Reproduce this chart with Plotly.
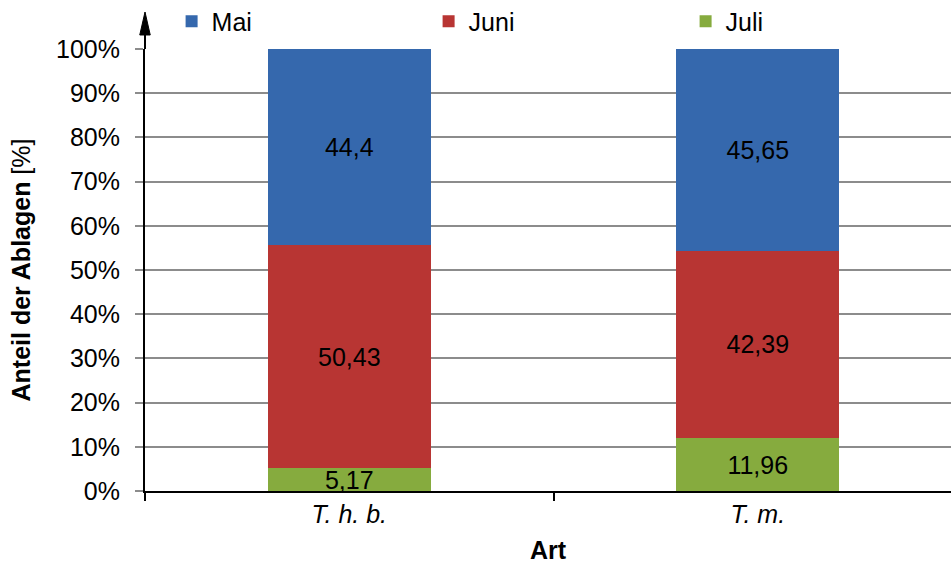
import plotly.graph_objects as go

# Share of egg depositions per month for each species (percent)
species = ["T. h. b.", "T. m."]
months = ["Mai", "Juni", "Juli"]
mai = [44.4, 45.65]
juni = [50.43, 42.39]
juli = [5.17, 11.96]
y_ticks = list(range(0, 101, 10))
y_tick_text = [f"{v}%" for v in y_ticks]

colors = {"Mai": "#3568ad", "Juni": "#b83533", "Juli": "#86ab3e"}
FONT = "Liberation Sans, Arial, Helvetica, sans-serif"
FS = 25


def fmt(v):
    return f"{v:g}".replace(".", ",")


fig = go.Figure()
# stacked bottom to top: Juli, Juni, Mai
for name, vals, rank in [("Juli", juli, 3), ("Juni", juni, 2), ("Mai", mai, 1)]:
    fig.add_trace(go.Bar(
        x=species, y=vals, name=name,
        marker=dict(color=colors[name], line=dict(width=0)),
        text=[fmt(v) for v in vals],
        textposition="inside", insidetextanchor="middle", textangle=0,
        textfont=dict(family=FONT, size=FS, color="black"),
        legendrank=rank,
    ))

fig.update_layout(
    width=951, height=565,
    margin=dict(l=145, r=0, t=49, b=74, autoexpand=False),
    barmode="stack", bargap=0.6,
    plot_bgcolor="white", paper_bgcolor="white",
    font=dict(family=FONT, size=FS, color="black"),
    uniformtext=dict(mode="show", minsize=FS),
    showlegend=True,
    legend=dict(orientation="h", x=0.033, y=1.062, xanchor="left", yanchor="middle",
                traceorder="normal",
                entrywidth=212, entrywidthmode="pixels", itemwidth=30,
                font=dict(family=FONT, size=FS), bgcolor="rgba(0,0,0,0)"),
    xaxis=dict(
        type="category", range=[-0.5, 1.473],
        showline=True, linecolor="black", linewidth=2,
        ticks="outside", tickson="boundaries", ticklen=8, tickwidth=2, tickcolor="black",
        showgrid=False,
        tickfont=dict(family=FONT, size=FS, style="italic"),
        title=dict(text="<b>Art</b>", standoff=14, font=dict(family=FONT, size=FS)),
    ),
    yaxis=dict(
        range=[0, 100], tickmode="array", tickvals=y_ticks, ticktext=y_tick_text,
        showline=True, linecolor="black", linewidth=2,
        ticks="outside", ticklen=8, tickwidth=1.5, tickcolor="#8c8c8c",
        ticklabelstandoff=10,
        showgrid=True, gridcolor="#8c8c8c", gridwidth=1.5,
        zeroline=False,
        title=dict(text="<b>Anteil der Ablagen</b> [%]", standoff=18,
                   font=dict(family=FONT, size=FS)),
    ),
)

# extend the value axis upward and finish it with an arrow head
fig.add_shape(type="line", xref="paper", yref="paper", x0=0, x1=0, y0=1, y1=1.04,
              line=dict(color="black", width=2))
fig.add_shape(type="path", xref="paper", yref="paper",
              path="M -0.0065 1.0317 L 0.0065 1.0317 L 0 1.0837 Z",
              fillcolor="black", line=dict(color="black", width=1))

fig.write_html("out.html")
